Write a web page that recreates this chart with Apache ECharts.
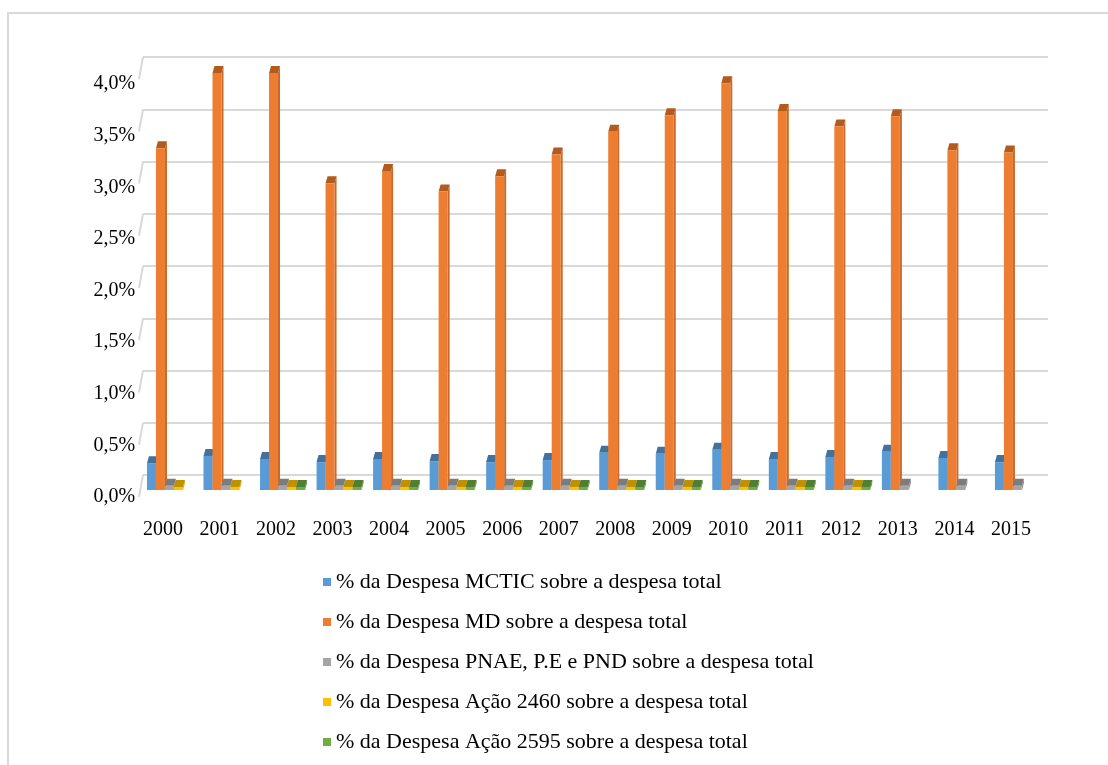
<!DOCTYPE html>
<html>
<head>
<meta charset="utf-8">
<script src="https://cdn.jsdelivr.net/npm/echarts@6/dist/echarts.min.js"></script>
<style>
html,body{margin:0;padding:0;background:#fff;}
#chart{width:1108px;height:765px;}
</style>
</head>
<body>
<div id="chart"></div>
<script>
// ---- data ----
var years = ['2000','2001','2002','2003','2004','2005','2006','2007','2008','2009','2010','2011','2012','2013','2014','2015'];
var seriesNames = [
  '% da Despesa MCTIC sobre a despesa total',
  '% da Despesa MD sobre a despesa total',
  '% da Despesa PNAE, P.E e PND sobre a despesa total',
  '% da Despesa Ação 2460 sobre a despesa total',
  '% da Despesa Ação 2595 sobre a despesa total'
];
var mctic    = [0.26,0.33,0.30,0.27,0.30,0.28,0.27,0.29,0.36,0.35,0.39,0.30,0.32,0.37,0.31,0.27];
var md       = [3.31,4.04,4.04,2.97,3.09,2.89,3.04,3.25,3.47,3.63,3.94,3.67,3.52,3.62,3.29,3.27];
var pnae     = [0.04,0.04,0.04,0.04,0.04,0.04,0.04,0.04,0.04,0.04,0.04,0.04,0.04,0.04,0.04,0.04];
var acao2460 = [0.03,0.03,0.03,0.03,0.03,0.03,0.03,0.03,0.03,0.03,0.03,0.03,0.03,null,null,null];
var acao2595 = [null,null,0.03,0.03,0.03,0.03,0.03,0.03,0.03,0.03,0.03,0.03,0.03,null,null,null];
var yTicks   = [0,0.5,1.0,1.5,2.0,2.5,3.0,3.5,4.0];

// ---- styles ----
var colors     = ['#5b9bd5','#ed7d31','#a5a5a5','#ffc000','#70ad47'];
var capColors  = ['#41719c','#b35a1f','#7c7c7c','#bf9000','#507e32'];
var sideColors = ['#4a80b3','#c9682a','#8f8f8f','#d9a300','#5f953c'];
var FONT = 'Liberation Serif';
var BAR_W = 9, DEPTH_X = 2, DEPTH_Y = 7;
var allData = [mctic, md, pnae, acao2460, acao2595];

var chart = echarts.init(document.getElementById('chart'));

function fmtPct(v){ return v > 4.0001 ? '' : v.toFixed(1).replace('.', ',') + '%'; }

var series = [];
// back wall slanted edge segments (grid 0)
series.push({
  type: 'custom', xAxisIndex: 0, yAxisIndex: 0, silent: true, z: 0,
  data: yTicks.map(function(v){ return [0, v]; }),
  renderItem: function(params, api){
    var p = api.coord([0, api.value(1)]);
    return { type: 'line', shape: { x1: p[0], y1: p[1], x2: p[0] - 4, y2: p[1] + 22 },
             style: { stroke: '#d9d9d9', lineWidth: 2 } };
  }
});
// 3D caps and side faces (grid 1)
allData.forEach(function(arr, s){
  series.push({
    type: 'custom', xAxisIndex: 1, yAxisIndex: 1, silent: true, z: 1,
    data: arr.map(function(v, i){ return v == null ? [i, '-'] : [i, v]; }),
    renderItem: function(params, api){
      var v = api.value(1);
      if (isNaN(v)) return null;
      var top = api.coord([api.value(0), v]);
      var base = api.coord([api.value(0), 0]);
      var x0 = top[0] - 2.5 * BAR_W + s * BAR_W;
      var x1 = x0 + BAR_W;
      return { type: 'group', children: [
        { type: 'polygon', shape: { points: [[x1, base[1]], [x1 + DEPTH_X, base[1] - DEPTH_Y], [x1 + DEPTH_X, top[1] - DEPTH_Y], [x1, top[1]]] },
          style: { fill: sideColors[s] } },
        { type: 'polygon', shape: { points: [[x0, top[1]], [x1, top[1]], [x1 + DEPTH_X, top[1] - DEPTH_Y], [x0 + DEPTH_X, top[1] - DEPTH_Y]] },
          style: { fill: capColors[s] } }
      ]};
    }
  });
});
// front faces
allData.forEach(function(arr, s){
  series.push({
    name: seriesNames[s], type: 'bar', xAxisIndex: 1, yAxisIndex: 1, z: 2,
    barWidth: BAR_W, barGap: '0%',
    itemStyle: { color: colors[s] },
    data: arr.map(function(v){ return v == null ? '-' : v; })
  });
});

chart.setOption({
  animation: false,
  backgroundColor: '#fff',
  textStyle: { fontFamily: FONT },
  graphic: [{
    type: 'rect', silent: true, z: -10,
    shape: { x: 8, y: 13, width: 1200, height: 900 },
    style: { fill: 'none', stroke: '#d9d9d9', lineWidth: 2 }
  }],
  grid: [
    { left: 143, right: 60, top: 57, bottom: 290 },
    { left: 141.2, right: 62.3, top: 25.4, bottom: 275 }
  ],
  xAxis: [
    { gridIndex: 0, type: 'value', min: 0, max: 1, show: false },
    { gridIndex: 1, type: 'category', data: years, boundaryGap: true,
      axisLine: { show: false }, axisTick: { show: false },
      axisLabel: { fontFamily: FONT, fontSize: 20, color: '#000', margin: 30, padding: [0, 13, 0, 0] } }
  ],
  yAxis: [
    { gridIndex: 0, type: 'value', min: 0, max: 4.0, interval: 0.5,
      axisLine: { show: false }, axisTick: { show: false }, axisLabel: { show: false },
      splitLine: { lineStyle: { color: '#d9d9d9', width: 2 } } },
    { gridIndex: 1, type: 'value', min: 0, max: 4.5, interval: 0.5,
      axisLine: { show: false }, axisTick: { show: false }, splitLine: { show: false },
      axisLabel: { fontFamily: FONT, fontSize: 20, color: '#000', margin: 6,
                   verticalAlign: 'top', lineHeight: 14, formatter: fmtPct } }
  ],
  legend: {
    orient: 'vertical', left: 318, top: 566,
    data: seriesNames, icon: 'rect', itemWidth: 8, itemHeight: 8, itemGap: 18,
    textStyle: { fontFamily: FONT, fontSize: 22, color: '#000' }
  },
  series: series
});
</script>
</body>
</html>
